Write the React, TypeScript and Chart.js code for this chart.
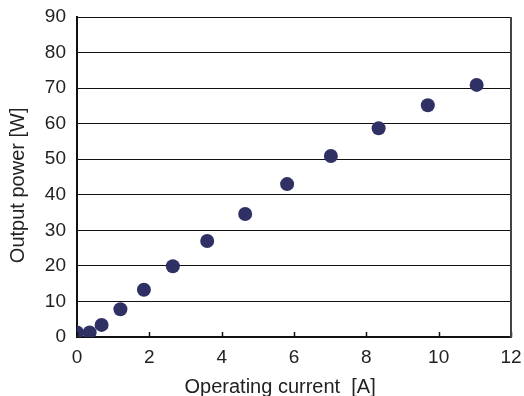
import React, { useEffect, useRef } from "react";
import { Chart, registerables } from "chart.js";

Chart.register(...registerables);

const currentA: number[] = [0, 0.35, 0.68, 1.2, 1.85, 2.65, 3.6, 4.65, 5.81, 7.02, 8.34, 9.7, 11.05];
const powerW: number[] = [1.3, 1.3, 3.4, 7.8, 13.3, 19.9, 27.0, 34.6, 43.0, 50.9, 58.7, 65.2, 70.9];
const xTitle = "Operating current  [A]     ";
const yTitle = "Output power [W]   ";

const FONT = "'Liberation Sans', Arial, Helvetica, sans-serif";

const framePlugin = {
  id: "frame",
  afterDraw(chart: any) {
    const { ctx, chartArea, scales } = chart;
    const xs = scales.x;
    ctx.save();
    // inside tick marks on the x axis
    ctx.strokeStyle = "#111";
    ctx.lineWidth = 1.5;
    xs.ticks.forEach((t: any) => {
      const px = Math.round(xs.getPixelForValue(t.value)) + 0.5;
      ctx.beginPath();
      ctx.moveTo(px, chartArea.bottom);
      ctx.lineTo(px, chartArea.bottom - 5);
      ctx.stroke();
    });
    // right border
    ctx.strokeStyle = "#444";
    ctx.lineWidth = 2;
    ctx.beginPath();
    ctx.moveTo(chartArea.right, chartArea.top);
    ctx.lineTo(chartArea.right, chartArea.bottom + 1);
    ctx.stroke();
    ctx.restore();
  },
};

export default function App() {
  const ref = useRef<HTMLCanvasElement | null>(null);
  useEffect(() => {
    if (!ref.current) return;
    const chart = new Chart(ref.current, {
      type: "scatter",
      data: {
        datasets: [
          {
            data: currentA.map((x, i) => ({ x, y: powerW[i] })),
            backgroundColor: "#2f3165",
            borderColor: "#2f3165",
            pointRadius: 7,
            pointHoverRadius: 7,
            borderWidth: 0,
          },
        ],
      },
      options: {
        responsive: false,
        animation: false,
        layout: { padding: { left: 0, top: 17, right: 13, bottom: 0 } },
        plugins: { legend: { display: false }, tooltip: { enabled: false } },
        scales: {
          x: {
            type: "linear",
            min: 0,
            max: 12,
            afterFit: (s: any) => {
              s.height = 59;
              s.paddingLeft = 0;
              s.paddingRight = 0;
            },
            ticks: {
              stepSize: 2,
              padding: 9,
              color: "#222",
              font: { family: FONT, size: 19 },
            },
            grid: { display: false, drawTicks: false, drawOnChartArea: false },
            border: { display: true, color: "#111", width: 2 },
            title: {
              display: true,
              text: xTitle,
              color: "#222",
              font: { family: FONT, size: 20, lineHeight: 1 },
              padding: { top: 0, bottom: -1 },
            },
          },
          y: {
            type: "linear",
            min: 0,
            max: 90,
            afterFit: (s: any) => {
              s.width = 77;
              s.paddingTop = 0;
              s.paddingBottom = 0;
            },
            ticks: {
              stepSize: 10,
              padding: 11,
              color: "#222",
              font: { family: FONT, size: 19 },
            },
            grid: { color: "#111", lineWidth: 1, drawTicks: false },
            border: { display: true, color: "#111", width: 2 },
            title: {
              display: true,
              text: yTitle,
              color: "#222",
              font: { family: FONT, size: 20, lineHeight: 1 },
              padding: { top: 8, bottom: 0 },
            },
          },
        },
      },
      plugins: [framePlugin],
    });
    return () => chart.destroy();
  }, []);
  return (
    <div style={{ position: "fixed", left: 0, top: 0, width: 524, height: 396, background: "#fff" }}>
      <canvas ref={ref} width={524} height={396} />
    </div>
  );
}
